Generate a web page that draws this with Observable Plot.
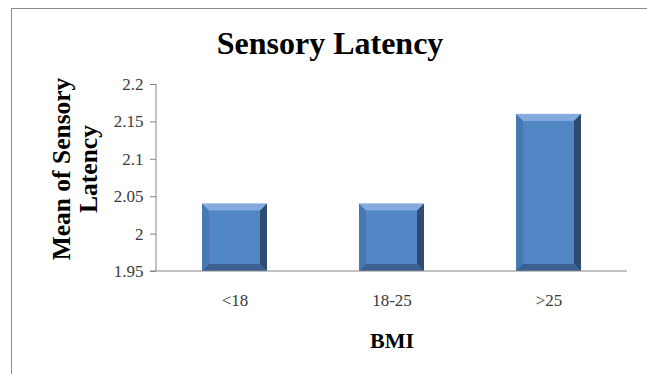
<!DOCTYPE html>
<html>
<head>
<meta charset="utf-8">
<script src="https://cdn.jsdelivr.net/npm/d3@7"></script>
<script src="https://cdn.jsdelivr.net/npm/@observablehq/plot@0.6"></script>
<style>
  html, body { margin: 0; padding: 0; background: #fff; }
  #wrap { position: relative; width: 647px; height: 374px; overflow: hidden; background: #fff; }
  #border { position: absolute; left: 11px; top: 8px; width: 660px; height: 400px; border: 1.5px solid #8a8a8a; box-sizing: border-box; }
  #chart { position: absolute; left: 0; top: 0; }
</style>
</head>
<body>
<div id="wrap"><div id="border"></div><div id="chart"></div></div>
<script>
const categories = ["<18", "18-25", ">25"];
const meanLatency = [2.04, 2.04, 2.16];
const yTicks = [1.95, 2, 2.05, 2.1, 2.15, 2.2];
const titleText = "Sensory Latency";
const yLabel = "Mean of Sensory\nLatency";
const xLabel = "BMI";

const data = categories.map((c, i) => ({bmi: c, mean: meanLatency[i]}));
const serif = "'Liberation Serif', 'Times New Roman', serif";

const plot = Plot.plot({
  width: 647,
  height: 374,
  marginLeft: 156,
  marginRight: 20,
  marginTop: 84,
  marginBottom: 103,
  style: {fontFamily: serif, background: "transparent", overflow: "visible"},
  x: {domain: categories, paddingInner: 0.585, paddingOuter: 0.2925},
  y: {domain: [1.95, 2.2]},
  marks: [
    Plot.axisY({ticks: yTicks, tickSize: 6, tickPadding: 7, fontSize: 17, stroke: "#868686", fill: "#3a3a3a",
      tickFormat: d => String(+d.toFixed(2)), label: null}),
    Plot.axisX({tickSize: 0, tickPadding: 22, fontSize: 17, fill: "#3a3a3a", label: null}),
    Plot.barY(data, {x: "bmi", y1: 1.95, y2: "mean", fill: "#4f81bd"}),
    Plot.text([titleText], {text: d => d, frameAnchor: "top", dx: -62, dy: -41, lineAnchor: "middle",
      textAnchor: "middle", fontSize: 32, fontWeight: "bold", fill: "#000"}),
    Plot.text([yLabel], {text: d => d, frameAnchor: "left", rotate: -90, dx: -82, dy: -9, lineAnchor: "middle",
      textAnchor: "middle", lineHeight: 1.08, fontSize: 25.5, fontWeight: "bold", fill: "#000"}),
    Plot.text([xLabel], {text: d => d, frameAnchor: "bottom", dy: 69, lineAnchor: "middle",
      textAnchor: "middle", fontSize: 22, fontWeight: "bold", fill: "#000"})
  ]
});

document.getElementById("chart").appendChild(plot);

// axis lines, from the plot's own scales
const svg = d3.select(plot);
const ys = plot.scale("y"), xs = plot.scale("x");
const yBase = ys.apply(1.95), yTop = ys.apply(2.2);
const xLeft = xs.range[0], xRight = xs.range[1];
svg.append("line").attr("x1", xLeft - 6).attr("x2", xRight).attr("y1", yBase).attr("y2", yBase)
  .attr("stroke", "#868686").attr("stroke-width", 1);
svg.append("line").attr("x1", xLeft).attr("x2", xLeft).attr("y1", yTop).attr("y2", yBase)
  .attr("stroke", "#868686").attr("stroke-width", 1);

// bevel effect on each bar rect produced by Plot
const b = 7;
svg.selectAll("g[aria-label='bar'] rect").each(function() {
  const r = d3.select(this);
  const x = +r.attr("x"), y = +r.attr("y"), w = +r.attr("width"), h = +r.attr("height");
  const g = d3.select(this.parentNode);
  const poly = (pts, fill) => g.append("polygon").attr("points", pts.map(p => p.join(",")).join(" ")).attr("fill", fill);
  poly([[x, y], [x + w, y], [x + w - b, y + b], [x + b, y + b]], "#84aade");
  poly([[x, y], [x + b, y + b], [x + b, y + h - b], [x, y + h]], "#4878b3");
  poly([[x + w, y], [x + w, y + h], [x + w - b, y + h - b], [x + w - b, y + b]], "#2e4b72");
  poly([[x, y + h], [x + w, y + h], [x + w - b, y + h - b], [x + b, y + h - b]], "#3b6193");
  g.append("rect").attr("x", x + b).attr("y", y + b).attr("width", w - 2 * b).attr("height", h - 2 * b).attr("fill", "#5186c4");
});
</script>
</body>
</html>
